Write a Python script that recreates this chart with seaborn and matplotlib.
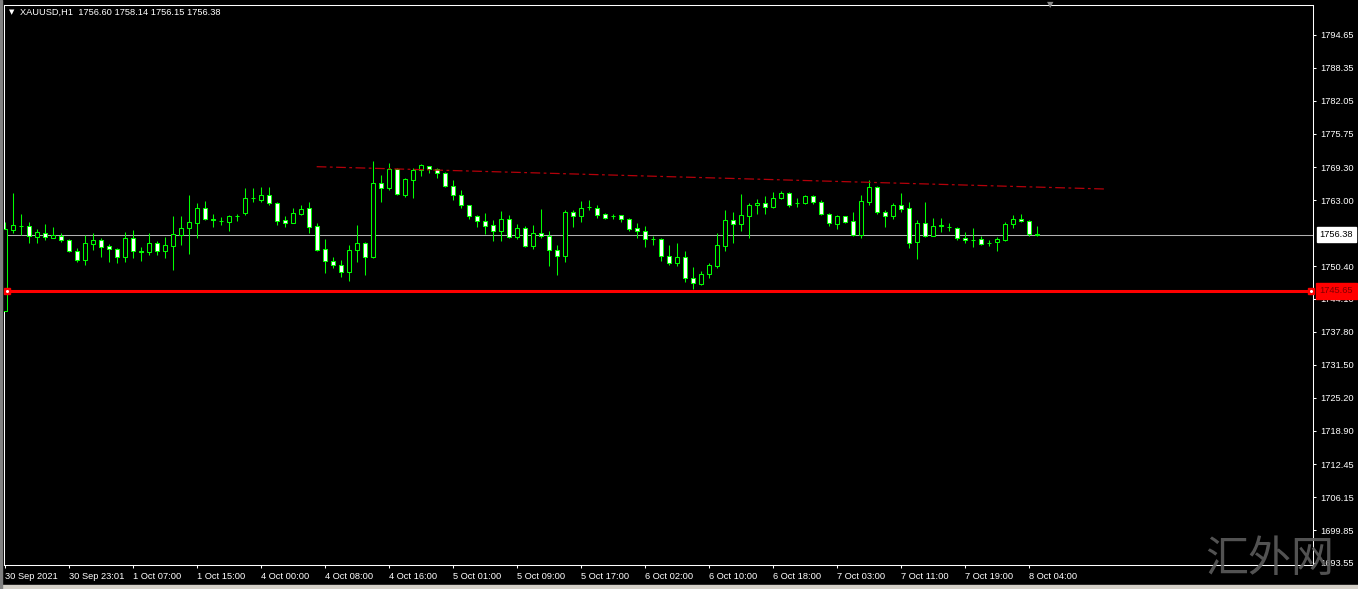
#!/usr/bin/env python3

import matplotlib
matplotlib.use("Agg")
import matplotlib.pyplot as plt
from matplotlib.patches import Rectangle
import seaborn as sns
import numpy as np

# chart data (XAUUSD, H1)
symbol = "XAUUSD,H1"

open_ = [1741.8, 1757.3, 1758.1, 1758.1, 1756.0, 1756.8, 1755.8, 1756.2, 1755.3, 1753.2,
         1751.5, 1754.7, 1755.3, 1754.2, 1753.6, 1752.2, 1755.7, 1753.3, 1753.0, 1754.9,
         1753.2, 1754.3, 1756.35, 1757.6, 1758.7, 1761.5, 1759.5, 1759.1, 1758.9, 1759.9,
         1760.5, 1763.4, 1763.1, 1764.1, 1762.4, 1759.2, 1758.7, 1760.4, 1761.5, 1758.1,
         1753.6, 1751.4, 1750.7, 1749.2, 1753.4, 1754.9, 1752.2, 1766.4, 1765.3, 1769.0,
         1764.1, 1766.9, 1768.8, 1769.5, 1768.9, 1768.2, 1765.8, 1764.1, 1762.0, 1759.9,
         1759.1, 1758.3, 1757.2, 1759.35, 1755.9, 1757.6, 1754.3, 1756.7, 1756.2, 1753.4,
         1752.4, 1760.7, 1759.9, 1761.7, 1761.6, 1760.3, 1760.0, 1760.1, 1759.35, 1757.6,
         1757.2, 1755.6, 1755.5, 1752.4, 1750.9, 1752.2, 1748.05, 1747.0, 1748.8, 1750.5,
         1754.3, 1759.2, 1758.4, 1760.05, 1762.0, 1762.4, 1761.8, 1763.4, 1764.3, 1762.4,
         1762.4, 1763.8, 1762.6, 1760.3, 1758.5, 1759.9, 1759.0, 1756.35, 1762.7, 1765.6,
         1760.8, 1759.9, 1762.0, 1761.5, 1755.1, 1758.6, 1756.2, 1758.1, 1757.9, 1757.75,
         1755.7, 1755.4, 1755.5, 1754.85, 1754.95, 1755.4, 1758.4, 1759.5, 1759.1, 1756.60]
high = [1758.9, 1764.3, 1760.3, 1758.9, 1757.5, 1758.4, 1757.8, 1756.7, 1755.6, 1753.8,
        1756.35, 1756.7, 1755.7, 1754.6, 1753.9, 1756.9, 1757.3, 1754.1, 1756.7, 1755.2,
        1756.0, 1759.9, 1760.0, 1764.1, 1762.4, 1762.9, 1760.3, 1759.8, 1760.2, 1760.4,
        1765.3, 1765.3, 1765.6, 1765.6, 1762.7, 1759.9, 1761.6, 1762.1, 1762.7, 1758.6,
        1755.6, 1752.2, 1751.6, 1754.4, 1758.3, 1755.1, 1770.5, 1767.8, 1770.1, 1769.2,
        1767.3, 1769.1, 1769.9, 1769.6, 1769.1, 1768.5, 1766.9, 1765.0, 1762.1, 1760.2,
        1760.5, 1759.2, 1760.9, 1760.2, 1758.4, 1758.1, 1758.3, 1761.3, 1757.1, 1754.4,
        1761.1, 1761.1, 1762.9, 1763.1, 1762.0, 1760.5, 1760.4, 1760.2, 1759.7, 1758.6,
        1758.1, 1756.2, 1755.7, 1754.4, 1754.8, 1753.2, 1750.3, 1749.5, 1750.9, 1756.7,
        1761.1, 1760.7, 1764.2, 1762.4, 1763.2, 1763.9, 1764.65, 1764.8, 1764.5, 1763.4,
        1764.0, 1764.0, 1763.05, 1760.5, 1760.2, 1760.05, 1760.7, 1764.0, 1766.9, 1765.8,
        1761.1, 1762.4, 1764.3, 1762.7, 1759.2, 1762.7, 1759.7, 1759.7, 1758.7, 1757.9,
        1756.9, 1757.75, 1756.2, 1755.4, 1756.0, 1758.9, 1760.2, 1760.3, 1759.2, 1758.14]
low = [1741.8, 1756.7, 1756.3, 1754.8, 1754.9, 1755.3, 1755.7, 1755.1, 1753.0, 1751.2,
       1750.6, 1753.5, 1752.2, 1751.1, 1750.9, 1751.1, 1751.9, 1751.4, 1752.5, 1752.6,
       1752.0, 1749.6, 1754.4, 1752.7, 1755.8, 1759.2, 1757.8, 1758.3, 1757.1, 1759.1,
       1760.2, 1762.7, 1762.7, 1762.1, 1758.3, 1757.8, 1758.6, 1760.2, 1756.7, 1753.2,
       1749.0, 1750.1, 1748.4, 1747.5, 1751.1, 1748.6, 1752.0, 1762.7, 1765.0, 1764.0,
       1763.7, 1763.4, 1767.7, 1768.2, 1767.3, 1765.6, 1763.1, 1761.6, 1759.5, 1757.8,
       1756.5, 1755.2, 1755.2, 1755.7, 1755.6, 1754.1, 1753.7, 1755.7, 1750.5, 1748.6,
       1751.2, 1757.8, 1758.9, 1761.1, 1759.7, 1759.5, 1759.4, 1758.9, 1757.1, 1755.8,
       1754.1, 1754.4, 1751.4, 1750.7, 1750.5, 1747.4, 1746.0, 1746.8, 1748.2, 1750.1,
       1753.2, 1754.9, 1757.1, 1755.8, 1760.3, 1760.3, 1761.6, 1763.2, 1761.8, 1761.8,
       1762.2, 1762.2, 1760.2, 1758.1, 1757.5, 1758.7, 1756.2, 1755.8, 1762.1, 1760.3,
       1757.9, 1759.4, 1760.8, 1753.9, 1751.75, 1756.0, 1756.2, 1757.0, 1757.1, 1755.4,
       1754.8, 1754.1, 1754.4, 1754.3, 1753.2, 1755.2, 1757.6, 1758.9, 1756.2, 1756.15]
close = [1757.5, 1758.3, 1758.1, 1756.2, 1756.9, 1755.9, 1756.35, 1755.3, 1753.2, 1751.5,
         1754.8, 1755.3, 1754.1, 1753.6, 1752.2, 1755.7, 1753.2, 1753.1, 1754.9, 1753.2,
         1754.4, 1756.5, 1757.6, 1758.8, 1761.5, 1759.5, 1759.2, 1759.0, 1760.0, 1760.0,
         1763.4, 1763.5, 1764.1, 1762.4, 1759.1, 1758.7, 1760.5, 1761.3, 1757.9, 1753.5,
         1751.4, 1750.7, 1749.2, 1753.5, 1754.9, 1752.2, 1766.4, 1765.4, 1769.0, 1764.2,
         1767.1, 1768.8, 1769.8, 1768.9, 1768.2, 1765.8, 1764.1, 1762.0, 1759.9, 1759.1,
         1758.1, 1757.2, 1759.35, 1755.9, 1757.6, 1754.3, 1756.7, 1756.2, 1753.4, 1752.4,
         1760.7, 1759.9, 1761.6, 1761.8, 1760.2, 1759.7, 1759.95, 1759.35, 1757.5, 1757.1,
         1755.6, 1755.5, 1752.4, 1751.05, 1752.2, 1748.05, 1747.1, 1748.8, 1750.6, 1754.4,
         1759.2, 1758.4, 1760.2, 1762.1, 1762.4, 1761.8, 1763.4, 1764.3, 1762.0, 1762.5,
         1763.8, 1762.6, 1760.3, 1758.6, 1760.0, 1758.9, 1756.35, 1762.9, 1765.6, 1760.8,
         1759.9, 1762.0, 1761.3, 1754.9, 1758.6, 1756.2, 1758.1, 1758.2, 1757.95, 1755.7,
         1755.3, 1755.35, 1754.7, 1754.9, 1755.6, 1758.4, 1759.5, 1759.1, 1756.6, 1756.38]

time_labels = ["30 Sep 2021", "30 Sep 23:01", "1 Oct 07:00", "1 Oct 15:00", "4 Oct 00:00",
               "4 Oct 08:00", "4 Oct 16:00", "5 Oct 01:00", "5 Oct 09:00", "5 Oct 17:00",
               "6 Oct 02:00", "6 Oct 10:00", "6 Oct 18:00", "7 Oct 03:00", "7 Oct 11:00",
               "7 Oct 19:00", "8 Oct 04:00"]
label_step = 8

price_ticks = [1794.65, 1788.35, 1782.05, 1775.75, 1769.30, 1763.00, 1750.40, 1744.10,
               1737.80, 1731.50, 1725.20, 1718.90, 1712.45, 1706.15, 1699.85, 1693.55]

level_price = 1745.65
trend_idx = [38.96, 137.4]
trend_price = [1769.43, 1765.16]
watermark = "汇外网"

W, H = 1358, 589
GREEN = "#00ff00"
FONT = 6.7

sns.set_theme(style="dark", rc={
    "figure.facecolor": "black",
    "axes.facecolor": "black",
    "axes.edgecolor": "white",
    "axes.linewidth": 0.75,
    "lines.scale_dashes": False,
})
plt.rcParams["font.family"] = ["Liberation Sans", "DejaVu Sans"]

fig = plt.figure(figsize=(W / 100, H / 100), dpi=100)
ax = fig.add_axes([4 / W, 1 - 565 / H, (1313 - 4) / W, (565 - 5) / H])

o = np.array(open_)
c = np.array(close)
x = np.arange(len(o))
bull = c >= o
bottom = np.minimum(o, c)
height = np.abs(c - o)

# wicks first, bodies cover them
ax.vlines(x, low, high, colors=GREEN, lw=0.75, zorder=2)
ax.bar(x[bull], height[bull], bottom=bottom[bull], width=0.55,
       color="black", edgecolor=GREEN, linewidth=0.75, zorder=3)
ax.bar(x[~bull], height[~bull], bottom=bottom[~bull], width=0.55,
       color="white", edgecolor=GREEN, linewidth=0.75, zorder=3)

# current bid line
ax.axhline(close[-1], color="#b0b0b0", lw=0.75, zorder=1)

# horizontal level + trend line
ax.axhline(level_price, color="#ff0000", lw=2.2, zorder=4)
for fx in (0.0023, 0.9985):
    ax.plot([fx], [level_price], marker="s", ms=5, color="#ff0000",
            transform=ax.get_yaxis_transform(), clip_on=False, zorder=5)
    ax.plot([fx], [level_price], marker="o", ms=1.2, color="white",
            transform=ax.get_yaxis_transform(), clip_on=False, zorder=6)

sns.lineplot(x=trend_idx, y=trend_price, ax=ax, color="#b4000a", lw=0.9,
             linestyle=(0, (7, 2.5, 2, 2.5)), zorder=4)

ax.set_xlim(-0.125, 163.5)
ax.set_ylim(1693.16, 1800.39)

ax.yaxis.tick_right()
ax.set_yticks(price_ticks)
ax.set_yticklabels([f"{v:.2f}" for v in price_ticks])
ax.set_xticks(x[::label_step])
ax.set_xticklabels(time_labels)
plt.setp(ax.get_xticklabels(), ha="left")
ax.tick_params(axis="y", colors="white", length=2.2, width=0.75, pad=2.8,
               labelsize=FONT, left=False, right=True)
ax.tick_params(axis="x", colors="white", length=2.5, width=0.75, pad=2.5,
               labelsize=FONT, bottom=True)
ax.set_xlabel("")
ax.set_ylabel("")
ax.grid(False)
for s in ax.spines.values():
    s.set_color("white")
    s.set_linewidth(0.75)

# price labels on the right scale
ax.annotate(f"{close[-1]:.2f}", xy=(1, close[-1]), xycoords=("axes fraction", "data"),
            xytext=(4.8, 0), textcoords="offset points", ha="left", va="center",
            fontsize=FONT, color="black", annotation_clip=False, zorder=10,
            bbox=dict(boxstyle="square,pad=0.33", fc="white", ec="white"))
ax.annotate(f"{level_price:.2f}", xy=(1, level_price), xycoords=("axes fraction", "data"),
            xytext=(4.8, 0), textcoords="offset points", ha="left", va="center",
            fontsize=FONT, color="#7f0000", annotation_clip=False, zorder=10,
            bbox=dict(boxstyle="square,pad=0.4", fc="#ff0000", ec="#ff0000"))

# header
fig.text(9 / W, 1 - 12 / H, "▼", color="white", fontsize=5, va="center",
         family="DejaVu Sans")
fig.text(20 / W, 1 - 12 / H,
         f"{symbol}  {open_[-1]:.2f} {high[-1]:.2f} {low[-1]:.2f} {close[-1]:.2f}",
         color="white", fontsize=FONT, va="center")

# chart shift marker
fig.text(1050 / W, 1 - 5 / H, "▼", color="#8a8a8a", fontsize=6, ha="center",
         va="center", family="DejaVu Sans")

# window frame
fig.patches.append(Rectangle((0, 0), 1, 4 / H, transform=fig.transFigure,
                             color="#d4d0c8", zorder=0))
fig.patches.append(Rectangle((0, 0), 1.5 / W, 1, transform=fig.transFigure,
                             color="#808080", zorder=0))

fig.text(1270 / W, 1 - 560 / H, watermark, color="#5c5c5c", fontsize=31,
         ha="center", va="center", family=["Noto Sans CJK SC", "DejaVu Sans"],
         fontweight="light", alpha=0.9, zorder=20)

fig.savefig("out.png", dpi=100, facecolor="black")
plt.close(fig)
